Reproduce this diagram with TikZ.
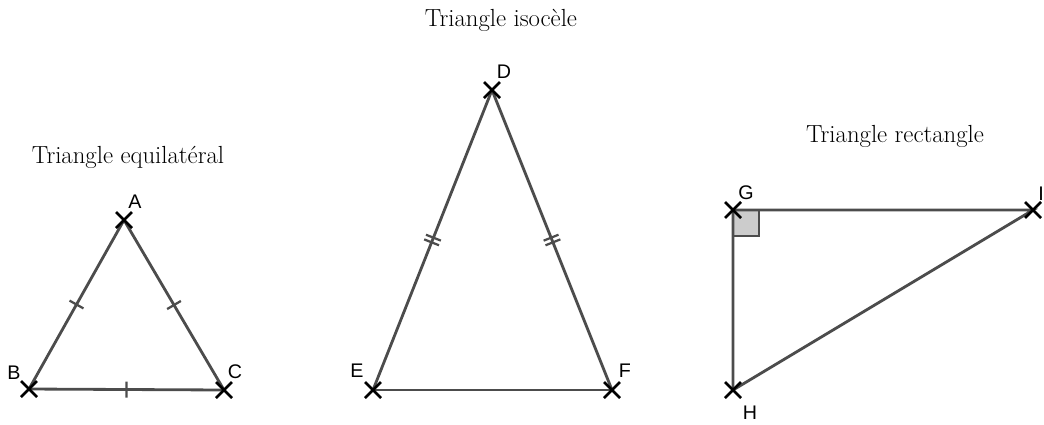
\documentclass[tikz,border=0pt]{standalone}
\usepackage{fontspec}
\newfontfamily\labelfont{Liberation Sans}
\usetikzlibrary{decorations.markings}
\tikzset{
  side/.style={draw=black!70, line width=2pt},
  cross/.style={draw=black, line width=1.8pt},
  title/.style={font=\fontsize{17.6}{21}\selectfont},
  vlabel/.style={font=\labelfont\fontsize{14}{16}\selectfont},
  onetick/.style={postaction={decorate}, decoration={markings,
    mark=at position 0.5 with {\draw[black!70, line width=1.6pt] (0,-8) -- (0,8);}}},
  twoticks/.style={postaction={decorate}, decoration={markings,
    mark=at position 0.5 with {\draw[black!70, line width=1.6pt] (-2.5,-8) -- (-2.5,8) (2.5,-8) -- (2.5,8);}}}
}
\begin{document}
\begin{tikzpicture}[x=0.025cm, y=-0.025cm]
  \useasboundingbox (0,0) rectangle (1044,424);
  % equilateral
  \coordinate (A) at (124,220);
  \coordinate (B) at (29,389);
  \coordinate (C) at (224,390);
  % isoceles
  \coordinate (D) at (492,90);
  \coordinate (E) at (373,390);
  \coordinate (F) at (612,390);
  % right angle
  \coordinate (G) at (733,210);
  \coordinate (H) at (733,390);
  \coordinate (I) at (1033,210);

  \node[title] (t1) at (128,157) {Triangle equilatéral};
  \node[title] (t2) at (501,20) {Triangle isocèle};
  \node[title] (t3) at (895,136) {Triangle rectangle};

  \draw[fill=black!20, draw=black!70, line width=1.8pt] (G) rectangle ++(26,26);

  \draw[side, onetick] (A) -- (B);
  \draw[side, onetick] (C) -- (A);
  \draw[side, onetick] (B) -- (C);
  \draw[side, twoticks] (D) -- (E);
  \draw[side, twoticks] (F) -- (D);
  \draw[side] (E) -- (F);
  \draw[side] (G) -- (H) -- (I) -- cycle;

  \foreach \p in {A,B,C,D,E,F,G,H,I}
    \draw[cross] (\p) ++(-8,-8) -- ++(16,16) ++(0,-16) -- ++(-16,16);

  \node[vlabel] (lA) at (135,202) {A};
  \node[vlabel] (lB) at (14,373) {B};
  \node[vlabel] (lC) at (235,372) {C};
  \node[vlabel] (lD) at (504,72) {D};
  \node[vlabel] (lE) at (357,371) {E};
  \node[vlabel] (lF) at (625,371) {F};
  \node[vlabel] (lG) at (746,193) {G};
  \node[vlabel] (lH) at (750,413) {H};
  \node[vlabel] (lI) at (1041,194) {I};
\end{tikzpicture}
\end{document}
